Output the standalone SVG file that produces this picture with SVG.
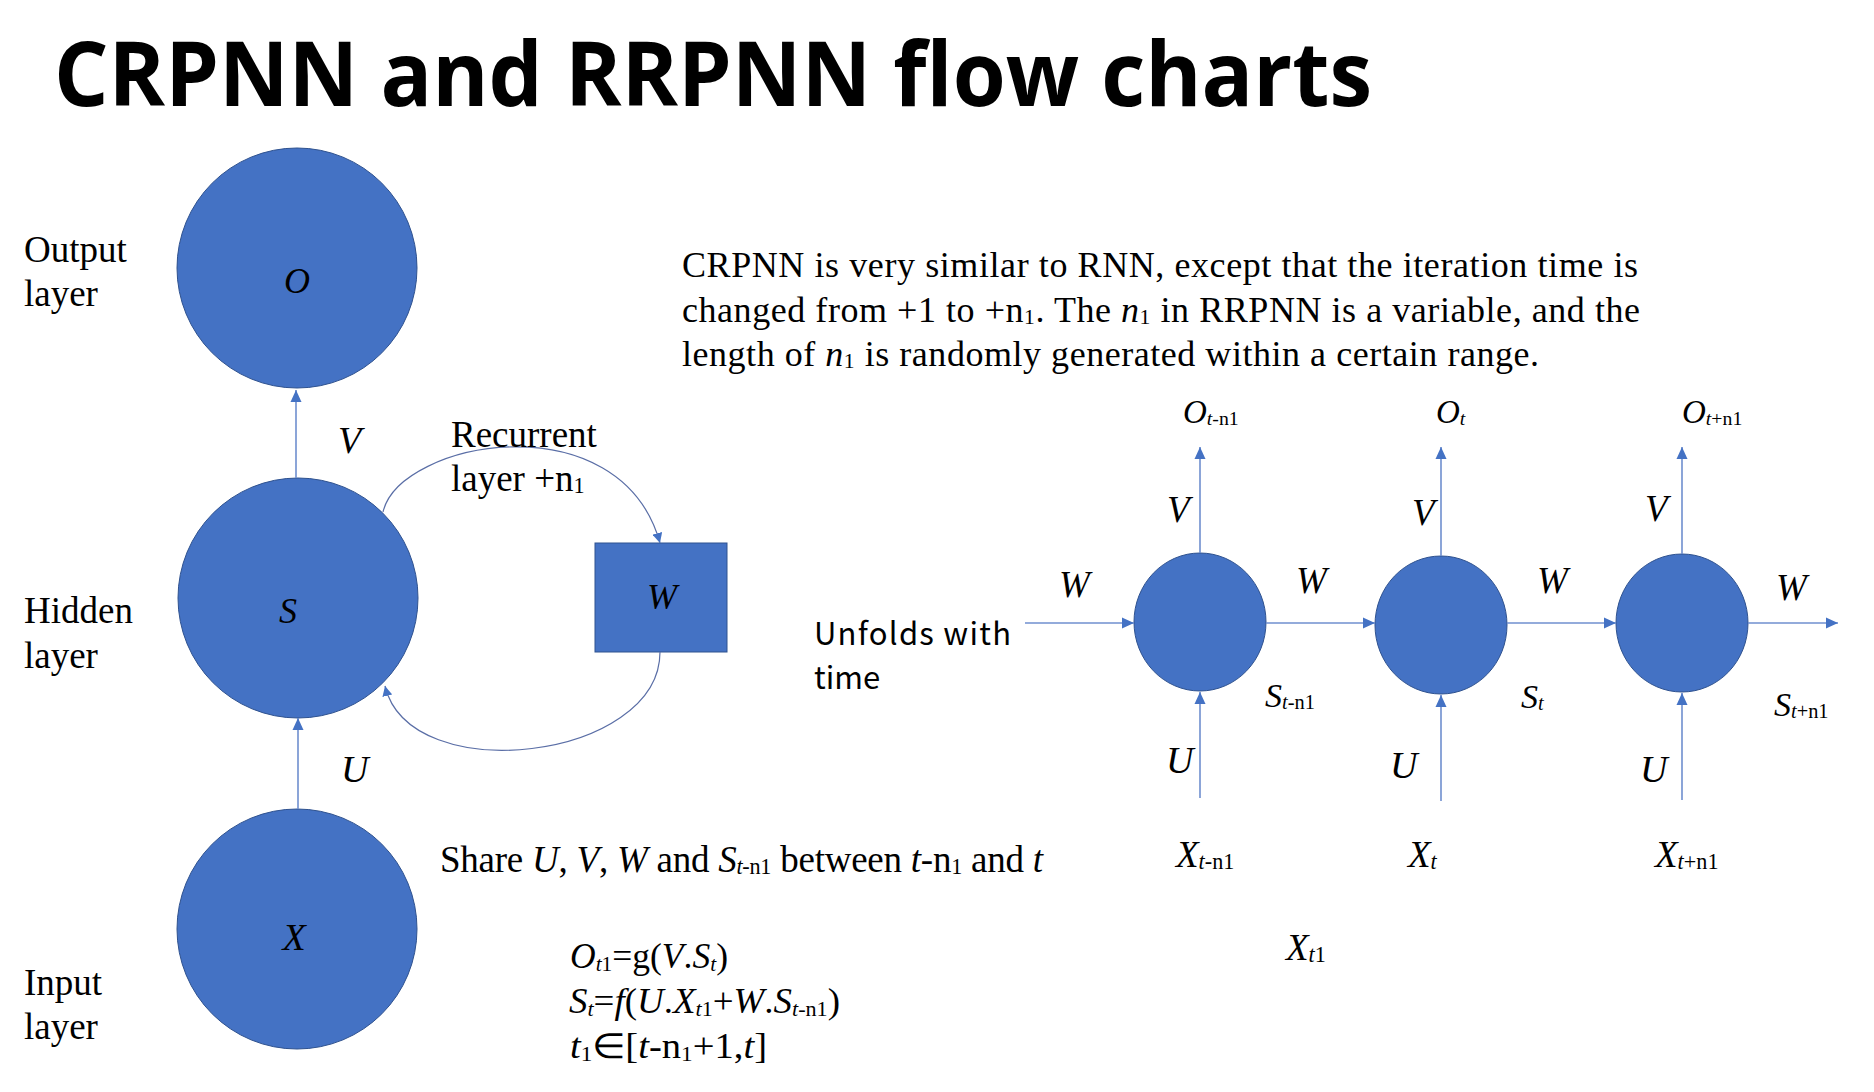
<svg xmlns="http://www.w3.org/2000/svg" width="1874" height="1092" viewBox="0 0 1874 1092">
<defs>
<style>
.serif{font-family:"Liberation Serif","Times New Roman",serif;fill:#000}
.it{font-style:italic}
.sub{font-size:60%}
.node{fill:#4472C4;stroke:#2F528F;stroke-width:1}
.conn{stroke:#6F8FCF;stroke-width:1.6;fill:none}
.curve{stroke:#5A6EA6;stroke-width:1.2;fill:none}
.sans{font-family:"Noto Sans CJK SC","Noto Sans",sans-serif;fill:#000}
</style>
<marker id="ah" viewBox="0 0 12 12" refX="12" refY="6" markerWidth="12" markerHeight="12" markerUnits="userSpaceOnUse" orient="auto">
<path d="M0,0.5 L12,6 L0,11.5 z" fill="#4472C4"/>
</marker>
<marker id="ahs" viewBox="0 0 10 10" refX="10" refY="5" markerWidth="10" markerHeight="10" markerUnits="userSpaceOnUse" orient="auto">
<path d="M0,0 L10,5 L0,10 z" fill="#4472C4"/>
</marker>
</defs>
<rect width="1874" height="1092" fill="#fff"/>

<text x="54" y="106" font-family="Open Sans" font-weight="bold" font-size="90" textLength="1318" lengthAdjust="spacingAndGlyphs" fill="#000">CRPNN and RRPNN flow charts</text>

<!-- left diagram nodes -->
<g id="node-O">
<circle class="node" cx="297" cy="268" r="120"/>
<text class="serif it" x="297" y="293" font-size="36" text-anchor="middle">O</text>
</g>
<g id="node-S">
<circle class="node" cx="298" cy="598" r="120"/>
<text class="serif it" x="288" y="623" font-size="36" text-anchor="middle">S</text>
</g>
<g id="node-X">
<circle class="node" cx="297" cy="929" r="120"/>
<text class="serif it" x="294" y="950" font-size="38" text-anchor="middle">X</text>
</g>
<g id="node-W">
<rect class="node" x="595" y="543" width="132" height="109"/>
<text class="serif it" x="662" y="609" font-size="36" text-anchor="middle">W</text>
</g>

<!-- right diagram nodes -->
<g id="node-S1"><ellipse class="node" cx="1200" cy="622" rx="66" ry="69"/></g>
<g id="node-S2"><ellipse class="node" cx="1441" cy="625" rx="66" ry="69"/></g>
<g id="node-S3"><ellipse class="node" cx="1682" cy="623" rx="66" ry="69"/></g>

<g id="connectors">
<line class="conn" x1="296" y1="478" x2="296" y2="390" marker-end="url(#ah)"/>
<line class="conn" x1="298" y1="809" x2="298" y2="718" marker-end="url(#ah)"/>
<path class="curve" d="M383,512 C400,440 620,400 660,543" marker-end="url(#ahs)"/>
<path class="curve" d="M660,652 C660,760 410,790 385,686" marker-end="url(#ahs)"/>

<line class="conn" x1="1025" y1="623" x2="1134" y2="623" marker-end="url(#ah)"/>
<line class="conn" x1="1266" y1="623" x2="1375" y2="623" marker-end="url(#ah)"/>
<line class="conn" x1="1507" y1="623" x2="1616" y2="623" marker-end="url(#ah)"/>
<line class="conn" x1="1748" y1="623" x2="1838" y2="623" marker-end="url(#ah)"/>

<line class="conn" x1="1200" y1="553" x2="1200" y2="447" marker-end="url(#ah)"/>
<line class="conn" x1="1441" y1="556" x2="1441" y2="447" marker-end="url(#ah)"/>
<line class="conn" x1="1682" y1="554" x2="1682" y2="447" marker-end="url(#ah)"/>

<line class="conn" x1="1200" y1="798" x2="1200" y2="692" marker-end="url(#ah)"/>
<line class="conn" x1="1441" y1="801" x2="1441" y2="695" marker-end="url(#ah)"/>
<line class="conn" x1="1682" y1="800" x2="1682" y2="693" marker-end="url(#ah)"/>
</g>

<!-- left labels -->
<g class="serif" font-size="37">
<text x="24" y="262">Output</text>
<text x="24" y="306">layer</text>
<text x="24" y="623">Hidden</text>
<text x="24" y="668">layer</text>
<text x="24" y="995">Input</text>
<text x="24" y="1039">layer</text>
<text x="451" y="447">Recurrent</text>
<text x="451" y="491">layer +n<tspan class="sub" dy="2">1</tspan></text>
</g>
<text class="serif it" x="338" y="453" font-size="38">V</text>
<text class="serif it" x="341" y="782" font-size="38">U</text>

<!-- paragraph -->
<g class="serif" font-size="36">
<text x="682" y="277" textLength="956">CRPNN is very similar to RNN, except that the iteration time is</text>
<text x="682" y="322" textLength="958">changed from +1 to +n<tspan class="sub" dy="2">1</tspan><tspan dy="-2">. The </tspan><tspan class="it">n</tspan><tspan class="sub" dy="2">1</tspan><tspan dy="-2"> in RRPNN is a variable, and the</tspan></text>
<text x="682" y="366" textLength="857">length of <tspan class="it">n</tspan><tspan class="sub" dy="2">1</tspan><tspan dy="-2"> is randomly generated within a certain range.</tspan></text>
</g>

<!-- share line -->
<text class="serif" x="440" y="872" font-size="37" textLength="603">Share <tspan class="it">U</tspan>, <tspan class="it">V</tspan>, <tspan class="it">W</tspan> and <tspan class="it">S</tspan><tspan class="sub" dy="2"><tspan class="it">t</tspan>-n1</tspan><tspan dy="-2"> between </tspan><tspan class="it">t</tspan>-n<tspan class="sub" dy="2">1</tspan><tspan dy="-2"> and </tspan><tspan class="it">t</tspan></text>

<!-- formulas -->
<g class="serif" font-size="35">
<text x="570" y="968" textLength="158" lengthAdjust="spacingAndGlyphs"><tspan class="it">O</tspan><tspan class="sub" dy="3"><tspan class="it">t</tspan>1</tspan><tspan dy="-3">=g(</tspan><tspan class="it">V</tspan>.<tspan class="it">S</tspan><tspan class="sub it" dy="3">t</tspan><tspan dy="-3">)</tspan></text>
<text x="569" y="1013" textLength="271" lengthAdjust="spacingAndGlyphs"><tspan class="it">S</tspan><tspan class="sub it" dy="3">t</tspan><tspan dy="-3">=</tspan><tspan class="it">f</tspan>(<tspan class="it">U</tspan>.<tspan class="it">X</tspan><tspan class="sub" dy="3"><tspan class="it">t</tspan>1</tspan><tspan dy="-3">+</tspan><tspan class="it">W</tspan>.<tspan class="it">S</tspan><tspan class="sub" dy="3"><tspan class="it">t</tspan>-n1</tspan><tspan dy="-3">)</tspan></text>
<text x="570" y="1058" textLength="197" lengthAdjust="spacingAndGlyphs"><tspan class="it">t</tspan><tspan class="sub" dy="3">1</tspan><tspan dy="-3">∈[</tspan><tspan class="it">t</tspan>-n<tspan class="sub" dy="3">1</tspan><tspan dy="-3">+1,</tspan><tspan class="it">t</tspan>]</text>
</g>

<!-- right labels -->
<text class="sans" x="814" y="645" font-size="31" textLength="197">Unfolds with</text>
<text class="sans" x="814" y="689" font-size="31">time</text>

<g class="serif" font-size="33">
<text x="1183" y="423"><tspan class="it">O</tspan><tspan class="sub" dy="2"><tspan class="it">t</tspan>-n1</tspan></text>
<text x="1436" y="423"><tspan class="it">O</tspan><tspan class="sub it" dy="2">t</tspan></text>
<text x="1682" y="423"><tspan class="it">O</tspan><tspan class="sub" dy="2"><tspan class="it">t</tspan>+n1</tspan></text>
</g>
<g class="serif it" font-size="37">
<text x="1167" y="522">V</text>
<text x="1412" y="525">V</text>
<text x="1645" y="521">V</text>
<text x="1059" y="597">W</text>
<text x="1296" y="593">W</text>
<text x="1537" y="593">W</text>
<text x="1776" y="600">W</text>
</g>
<g class="serif" font-size="34">
<text x="1265" y="707"><tspan class="it">S</tspan><tspan class="sub" dy="2"><tspan class="it">t</tspan>-n1</tspan></text>
<text x="1521" y="708"><tspan class="it">S</tspan><tspan class="sub it" dy="2">t</tspan></text>
<text x="1774" y="716"><tspan class="it">S</tspan><tspan class="sub" dy="2"><tspan class="it">t</tspan>+n1</tspan></text>
</g>
<g class="serif it" font-size="38">
<text x="1166" y="773">U</text>
<text x="1390" y="778">U</text>
<text x="1640" y="782">U</text>
</g>
<g class="serif" font-size="37">
<text x="1176" y="867"><tspan class="it">X</tspan><tspan class="sub" dy="2"><tspan class="it">t</tspan>-n1</tspan></text>
<text x="1408" y="867"><tspan class="it">X</tspan><tspan class="sub it" dy="2">t</tspan></text>
<text x="1655" y="867"><tspan class="it">X</tspan><tspan class="sub" dy="2"><tspan class="it">t</tspan>+n1</tspan></text>
<text x="1286" y="960"><tspan class="it">X</tspan><tspan class="sub" dy="2"><tspan class="it">t</tspan>1</tspan></text>
</g>
</svg>
